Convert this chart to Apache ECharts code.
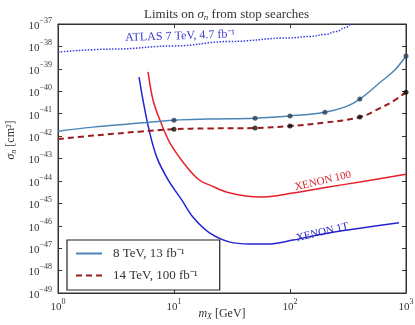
<!DOCTYPE html>
<html><head><meta charset="utf-8">
<script src="https://cdn.jsdelivr.net/npm/echarts@6/dist/echarts.min.js"></script>
<style>html,body{margin:0;padding:0;background:#fff}#c{width:415px;height:325px}</style>
</head><body><div id="c"></div>
<script>
// --- data ---
const mass8 = [1, 2, 3, 5, 10, 20, 50, 100, 200, 300, 400, 600, 800, 1000];
const sigma8 = [1.66e-42, 2.51e-42, 3.02e-42, 3.80e-42, 5.13e-42, 5.75e-42, 6.31e-42, 7.94e-42, 1.17e-41, 2.0e-41, 4.47e-41, 2.51e-40, 8.9e-40, 3.72e-39];
const markMass8 = [10, 50, 100, 200, 400, 1000];

const mass14 = [1, 2, 3, 5, 10, 20, 50, 100, 200, 400, 600, 800, 1000];
const sigma14 = [7.41e-43, 1.05e-42, 1.26e-42, 1.58e-42, 2.04e-42, 2.19e-42, 2.29e-42, 2.82e-42, 3.98e-42, 7.08e-42, 1.78e-41, 3.98e-41, 9.12e-41];
const markMass14 = [10, 50, 100, 400, 1000];

const massX100 = [5.97, 6.59, 7.57, 9.24, 12.9, 16.5, 20.4, 30.4, 55, 106, 208, 401, 1000];
const sigmaX100 = [7.24e-40, 4.07e-41, 5.13e-42, 4.90e-43, 4.17e-44, 1.10e-44, 6.46e-45, 2.88e-45, 1.91e-45, 2.88e-45, 5.25e-45, 8.91e-45, 2.0e-44];

const massX1T = [5.0, 5.4, 6.1, 7.1, 8.9, 11.7, 14.6, 20.4, 30.4, 45, 67, 106, 208, 401, 870];
const sigmaX1T = [4.27e-40, 4.07e-41, 1.86e-42, 1.15e-43, 1.10e-44, 1.38e-45, 2.40e-46, 4.68e-47, 1.86e-47, 1.55e-47, 1.55e-47, 2.29e-47, 4.68e-47, 7.76e-47, 1.35e-46];

const massAtlas = [1, 3, 10, 30, 100, 150, 200, 250, 300, 340];
const sigmaAtlas = [5.62e-39, 7.59e-39, 1.05e-38, 1.66e-38, 2.40e-38, 2.8e-38, 3.4e-38, 4.6e-38, 7.0e-38, 1.1e-37];

const yMin = 1e-49, yMax = 1e-37;
const labels = {
  title: 'Limits on {i|σ}{sub|n} from stop searches',
  s8: '8 TeV, 13 fb⁻¹',
  s14: '14 TeV, 100 fb⁻¹',
  x100: 'XENON 100',
  x1t: 'XENON 1T',
  atlas: 'ATLAS 7 TeV, 4.7 fb⁻¹',
  xName: '{i|m}{sub|X} [GeV]',
  yName: '{i|σ}{sub|n} [cm²]'
};
// --- build ---
// the y axis is plotted in units of 1e-49 cm^2 (ECharts log ticks lose precision below ~1e-20);
// the tick labels add the exponent back.
const U = 1e49;
const pairs = (xs, ys) => xs.map((x, i) => [x, ys[i] * U]);
const pick = (xs, ys, sel) => pairs(xs, ys).filter(p => sel.includes(p[0]));
const FONT = 'Liberation Serif';
const expStr = e => String(e).replace('-', '−');
const xFmt = v => '{a|10}{s|' + expStr(Math.round(Math.log10(v))) + '}';
const yFmt = v => '{a|10}{s|' + expStr(Math.round(Math.log10(v / U))) + '}';
const tickRich = {
  a: {fontFamily: FONT, fontSize: 11, color: '#333', verticalAlign: 'bottom', lineHeight: 15},
  s: {fontFamily: FONT, fontSize: 8, color: '#333', verticalAlign: 'top', lineHeight: 9}
};
const nameRich = {
  i: {fontFamily: FONT, fontSize: 12, fontStyle: 'italic', fill: '#333'},
  sub: {fontFamily: FONT, fontSize: 8, fontStyle: 'italic', fill: '#333', verticalAlign: 'bottom', padding: [6, 0, 0, 0]}
};
const chart = echarts.init(document.getElementById('c'), null, {renderer: 'canvas'});
const axisCommon = {
  axisLine: {lineStyle: {color: '#333', width: 1}},
  axisTick: {inside: true, length: 4, lineStyle: {color: '#333'}},
  splitLine: {show: false}
};
const yCommon = {type: 'log', logBase: 10, min: yMin * U, max: yMax * U, interval: 1};
chart.setOption({
  animation: false,
  backgroundColor: '#fff',
  title: {
    text: labels.title, left: 139, top: 2,
    textStyle: {fontFamily: FONT, fontSize: 13, fontWeight: 'normal', color: '#333',
      rich: {i: {fontFamily: FONT, fontSize: 13, fontStyle: 'italic', color: '#333'},
             sub: {fontFamily: FONT, fontSize: 9, fontStyle: 'italic', color: '#333', verticalAlign: 'bottom', padding: [6, 0, 0, 0]}}}
  },
  grid: {left: 58, right: 9, top: 24, bottom: 32, show: true, borderColor: '#333', borderWidth: 1,
         containLabel: false, outerBoundsMode: 'none'},
  xAxis: [
    Object.assign({type: 'log', logBase: 10, min: 1, max: 1000, position: 'bottom',
      axisLabel: {formatter: xFmt, rich: tickRich, margin: 5}}, axisCommon),
    Object.assign({type: 'log', logBase: 10, min: 1, max: 1000, position: 'top', axisLabel: {show: false}}, axisCommon)
  ],
  yAxis: [
    Object.assign({}, yCommon, {position: 'left',
      axisLabel: {formatter: yFmt, rich: tickRich, margin: 6}}, axisCommon),
    Object.assign({}, yCommon, {position: 'right', axisLabel: {show: false}}, axisCommon)
  ],
  legend: {
    data: [labels.s8, labels.s14], orient: 'vertical', left: 67, top: 240, width: 140,
    padding: [7, 22, 8, 8], itemGap: 9, itemWidth: 26, itemHeight: 14,
    backgroundColor: '#fff', borderColor: '#222', borderWidth: 1.2, borderRadius: 0,
    itemStyle: {opacity: 0},
    textStyle: {fontFamily: FONT, fontSize: 13, color: '#333', padding: [0, 0, 0, 6]}
  },
  graphic: [{
    type: 'text', x: 11, y: 140, rotation: Math.PI / 2,
    style: {text: labels.yName, align: 'center', verticalAlign: 'middle', rich: nameRich,
      font: '12px ' + FONT, fill: '#333'}
  }, {
    type: 'text', x: 222, y: 314,
    style: {text: labels.xName, align: 'center', verticalAlign: 'middle', rich: nameRich,
      font: '12px ' + FONT, fill: '#333'}
  }],
  series: [
    {name: labels.s8, type: 'line', data: pairs(mass8, sigma8), smooth: 0.4, symbol: 'none',
     lineStyle: {color: '#4a86b8', width: 1.5}, itemStyle: {color: '#4a86b8'}, z: 4},
    {name: 'm8', type: 'scatter', data: pick(mass8, sigma8, markMass8), symbolSize: 5,
     itemStyle: {color: '#2c3e55'}, z: 5},
    {name: labels.s14, type: 'line', data: pairs(mass14, sigma14), smooth: 0.4, symbol: 'none',
     lineStyle: {color: '#9b1c1c', width: 2, type: [6, 4]}, itemStyle: {color: '#9b1c1c'}, z: 4},
    {name: 'm14', type: 'scatter', data: pick(mass14, sigma14, markMass14), symbolSize: 5,
     itemStyle: {color: '#111'}, z: 5},
    {name: labels.x100, type: 'line', data: pairs(massX100, sigmaX100), smooth: 0.35, symbol: 'none',
     lineStyle: {color: '#e8202a', width: 1.5}, itemStyle: {color: '#e8202a'},
     markPoint: {symbol: 'circle', symbolSize: 0, data: [{coord: [192, 1.0e-44 * U]}],
       label: {show: true, position: 'inside', formatter: labels.x100, rotate: 13,
         fontFamily: FONT, fontSize: 11, color: '#d8202a'}}},
    {name: labels.x1t, type: 'line', data: pairs(massX1T, sigmaX1T), smooth: 0.35, symbol: 'none',
     lineStyle: {color: '#2424d0', width: 1.5}, itemStyle: {color: '#2424d0'},
     markPoint: {symbol: 'circle', symbolSize: 0, data: [{coord: [190, 5.1e-47 * U]}],
       label: {show: true, position: 'inside', formatter: labels.x1t, rotate: 13,
         fontFamily: FONT, fontSize: 11, color: '#2424c0'}}},
    {name: labels.atlas, type: 'line', data: pairs(massAtlas, sigmaAtlas), smooth: 0.4, smoothMonotone: 'x', symbol: 'none',
     lineStyle: {color: '#3a3ae0', width: 1.5, type: 'dotted'}, itemStyle: {color: '#3a3ae0'},
     markPoint: {symbol: 'circle', symbolSize: 0, data: [{coord: [11.3, 2.9e-38 * U]}],
       label: {show: true, position: 'inside', formatter: labels.atlas, rotate: 2,
         fontFamily: FONT, fontSize: 12, color: '#3a3ad0'}}}
  ]
});
</script></body></html>
